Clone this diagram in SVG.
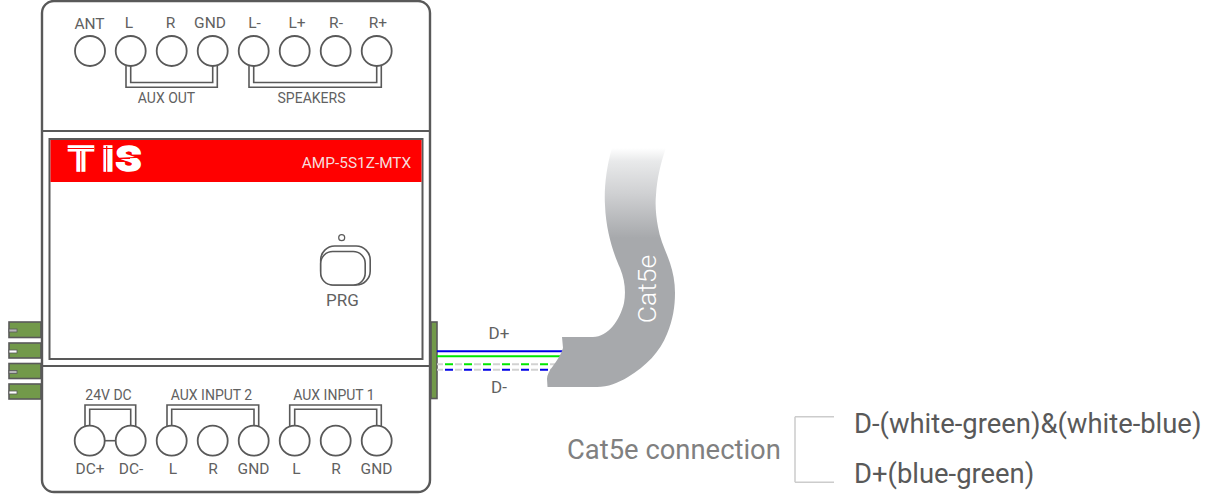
<svg xmlns="http://www.w3.org/2000/svg" width="1217" height="495" viewBox="0 0 1217 495">
<style>
.o{fill:none;stroke:#595959;stroke-width:2}
.c{fill:#fff;stroke:#595959;stroke-width:1.8}
.b{fill:none;stroke:#595959;stroke-width:1.6}
.t{font-family:Roboto,"Liberation Sans",sans-serif;fill:#616161;text-anchor:middle}
.l{font-size:15.5px}
.s{font-size:14px}
.g{fill:#72994a;stroke:#595959;stroke-width:1.6}
.n{stroke:#595959;stroke-width:.8}
</style>
<defs>
<linearGradient id="cable" gradientUnits="userSpaceOnUse" x1="0" y1="148" x2="0" y2="238">
<stop offset="0" stop-color="#ffffff"/><stop offset="0.15" stop-color="#e8e9ea"/><stop offset="0.5" stop-color="#d0d1d3"/><stop offset="1" stop-color="#a7a9ac"/>
</linearGradient>
</defs>
<g id="terminal-tabs">
<rect class="g" x="9" y="322" width="32" height="15.500"/><rect class="g" x="9" y="343" width="32" height="15"/><rect class="g" x="9" y="363.500" width="32" height="15"/><rect class="g" x="9" y="384" width="32" height="15"/>
<rect class="n" x="9" y="329" width="8" height="3" fill="#b5b5b5"/><rect class="n" x="9" y="350" width="8" height="3" fill="#fff"/><rect class="n" x="9" y="370.500" width="8" height="3" fill="#b5b5b5"/><rect class="n" x="9" y="391" width="8" height="3" fill="#fff"/>
<rect class="g" x="431" y="322" width="6" height="76.500"/>
</g>
<g id="amp-module">
<rect class="o" x="42" y="1" width="388" height="491" rx="12" style="stroke-width:2.400"/>
<path class="o" d="M42 131H430M42 366H430"/>
<rect class="o" x="49.500" y="139" width="373" height="220"/>
<rect x="50.500" y="140" width="371" height="42" fill="#f00"/>
<text transform="scale(1.15 1)" x="59.100 88.500 100.500" y="171" stroke="#fff" stroke-width="1.600" style="font-family:Roboto,'Liberation Sans',sans-serif;font-weight:900;font-size:36px;fill:#fff">TIS</text>
<path d="M80.800 151V173M106.700 146V173M66 148.500H94M101 148.500H113M115 158.500L144 157M115 158.500H130" fill="none" stroke="#f00" stroke-width="1.200"/>
<text class="t" x="356.500" y="168" style="font-size:15.400px;fill:#f6dcdc">AMP-5S1Z-MTX</text>
</g>
<g id="prg-button">
<circle cx="341.700" cy="237.700" r="3" class="c" style="stroke-width:1.200"/>
<rect class="b" x="320.700" y="246" width="49.500" height="39" rx="14"/>
<rect class="b" x="320.700" y="251.500" width="44.500" height="33.500" rx="12" style="fill:#fff"/>
<text class="t" x="342.500" y="305.500" style="font-size:17px">PRG</text>
</g>
<g id="connectors">
<path class="b" d="M126 66V87.300H217.300V66M130.700 66V82.500H212.700V66"/>
<path class="b" d="M249 66V87.300H381.300V66M253.700 66V82.500H376.700V66"/>
<path class="b" d="M85 426V405H135.700V426M89.700 426V409.300H130.700V426"/>
<path class="b" d="M167 426V405H258.700V426M171.700 426V409.300H254V426"/>
<path class="b" d="M289.700 426V405H381.300V426M294.700 426V409.300H376.700V426"/>
<path class="b" d="M105 440.700H115"/>
<path d="M437 351.300H563" stroke="#0000e6" stroke-width="2"/>
<path d="M437 356.300H561" stroke="#00e600" stroke-width="2"/>
<path d="M437 364.300H558" stroke="#d2d2d2" stroke-width="2" stroke-dasharray="7 12" stroke-dashoffset="1"/>
<path d="M445 364.300H558" stroke="#00e600" stroke-width="2" stroke-dasharray="8 11"/>
<path d="M437 369.700H555" stroke="#d2d2d2" stroke-width="2" stroke-dasharray="7 12" stroke-dashoffset="1"/>
<path d="M445 369.700H555" stroke="#0000e6" stroke-width="2" stroke-dasharray="8 11"/>
<path d="M795 416.700V482.300M795 416.700H834M795 482.300H834" fill="none" stroke="#cccccc" stroke-width="1.500"/>
</g>
<g id="cable-cat5e">
<path d="M612 148C606 168 604 190 605 205C606 232 614 255 620 268C625 280 626 292 624 303C620 320 608 337 593 337H562L563 348C561 355 557 360 553 366C549 371 547 375 547 379L547.500 387H597C608 387 618 383 628 377C646 366 660 352 667 334C673 320 675 306 675 293C675 282 673 272 670 263C666 251 660 240 658 227C656 216 655 205 656 195C657 178 661 162 666 148Z" fill="url(#cable)"/>
<text x="656" y="289" transform="rotate(-90 656 289)" text-anchor="middle" style="font-family:Roboto,'Liberation Sans',sans-serif;font-weight:300;font-size:26.500px;fill:#fff">Cat5e</text>
</g>
<g id="top-terminals">
<circle class="c" cx="90" cy="51" r="15"/><circle class="c" cx="130.700" cy="51" r="15"/><circle class="c" cx="171.700" cy="51" r="15"/><circle class="c" cx="212.700" cy="51" r="15"/><circle class="c" cx="253.700" cy="51" r="15"/><circle class="c" cx="294.700" cy="51" r="15"/><circle class="c" cx="335.700" cy="51" r="15"/><circle class="c" cx="376.700" cy="51" r="15"/>
<text class="t l" x="89.500" y="29">ANT</text><text class="t l" x="129" y="28">L</text><text class="t l" x="170.500" y="28">R</text><text class="t l" x="210" y="28">GND</text><text class="t l" x="254.500" y="28">L-</text><text class="t l" x="297" y="28">L+</text><text class="t l" x="336" y="28">R-</text><text class="t l" x="378" y="28">R+</text>
<text class="t s" x="166.500" y="102.500">AUX OUT</text><text class="t s" x="311.500" y="102.500">SPEAKERS</text>
</g>
<g id="bottom-terminals">
<circle class="c" cx="89.700" cy="440.700" r="15"/><circle class="c" cx="130.700" cy="440.700" r="15"/><circle class="c" cx="171.700" cy="440.700" r="15"/><circle class="c" cx="212.700" cy="440.700" r="15"/><circle class="c" cx="253.700" cy="440.700" r="15"/><circle class="c" cx="294.700" cy="440.700" r="15"/><circle class="c" cx="335.700" cy="440.700" r="15"/><circle class="c" cx="376.700" cy="440.700" r="15"/>
<text class="t s" x="108.500" y="400">24V DC</text><text class="t s" x="211.500" y="400">AUX INPUT 2</text><text class="t s" x="334" y="400">AUX INPUT 1</text>
<text class="t l" x="90" y="474">DC+</text><text class="t l" x="131" y="474">DC-</text><text class="t l" x="173" y="474">L</text><text class="t l" x="213" y="474">R</text><text class="t l" x="253.500" y="474">GND</text><text class="t l" x="296.500" y="474">L</text><text class="t l" x="336" y="474">R</text><text class="t l" x="376.500" y="474">GND</text>
</g>
<g id="labels">
<text class="t" x="499" y="339" style="font-size:17px">D+</text>
<text class="t" x="499" y="392.500" style="font-size:17px">D-</text>
<text x="567" y="459" style="font-family:Roboto,'Liberation Sans',sans-serif;font-size:27.400px;fill:#808080">Cat5e connection</text>
<text x="854" y="433" style="font-family:Roboto,'Liberation Sans',sans-serif;font-size:27.400px;fill:#595959">D-(white-green)&amp;(white-blue)</text>
<text x="854" y="483" style="font-family:Roboto,'Liberation Sans',sans-serif;font-size:27.400px;fill:#595959">D+(blue-green)</text>
</g>
</svg>
